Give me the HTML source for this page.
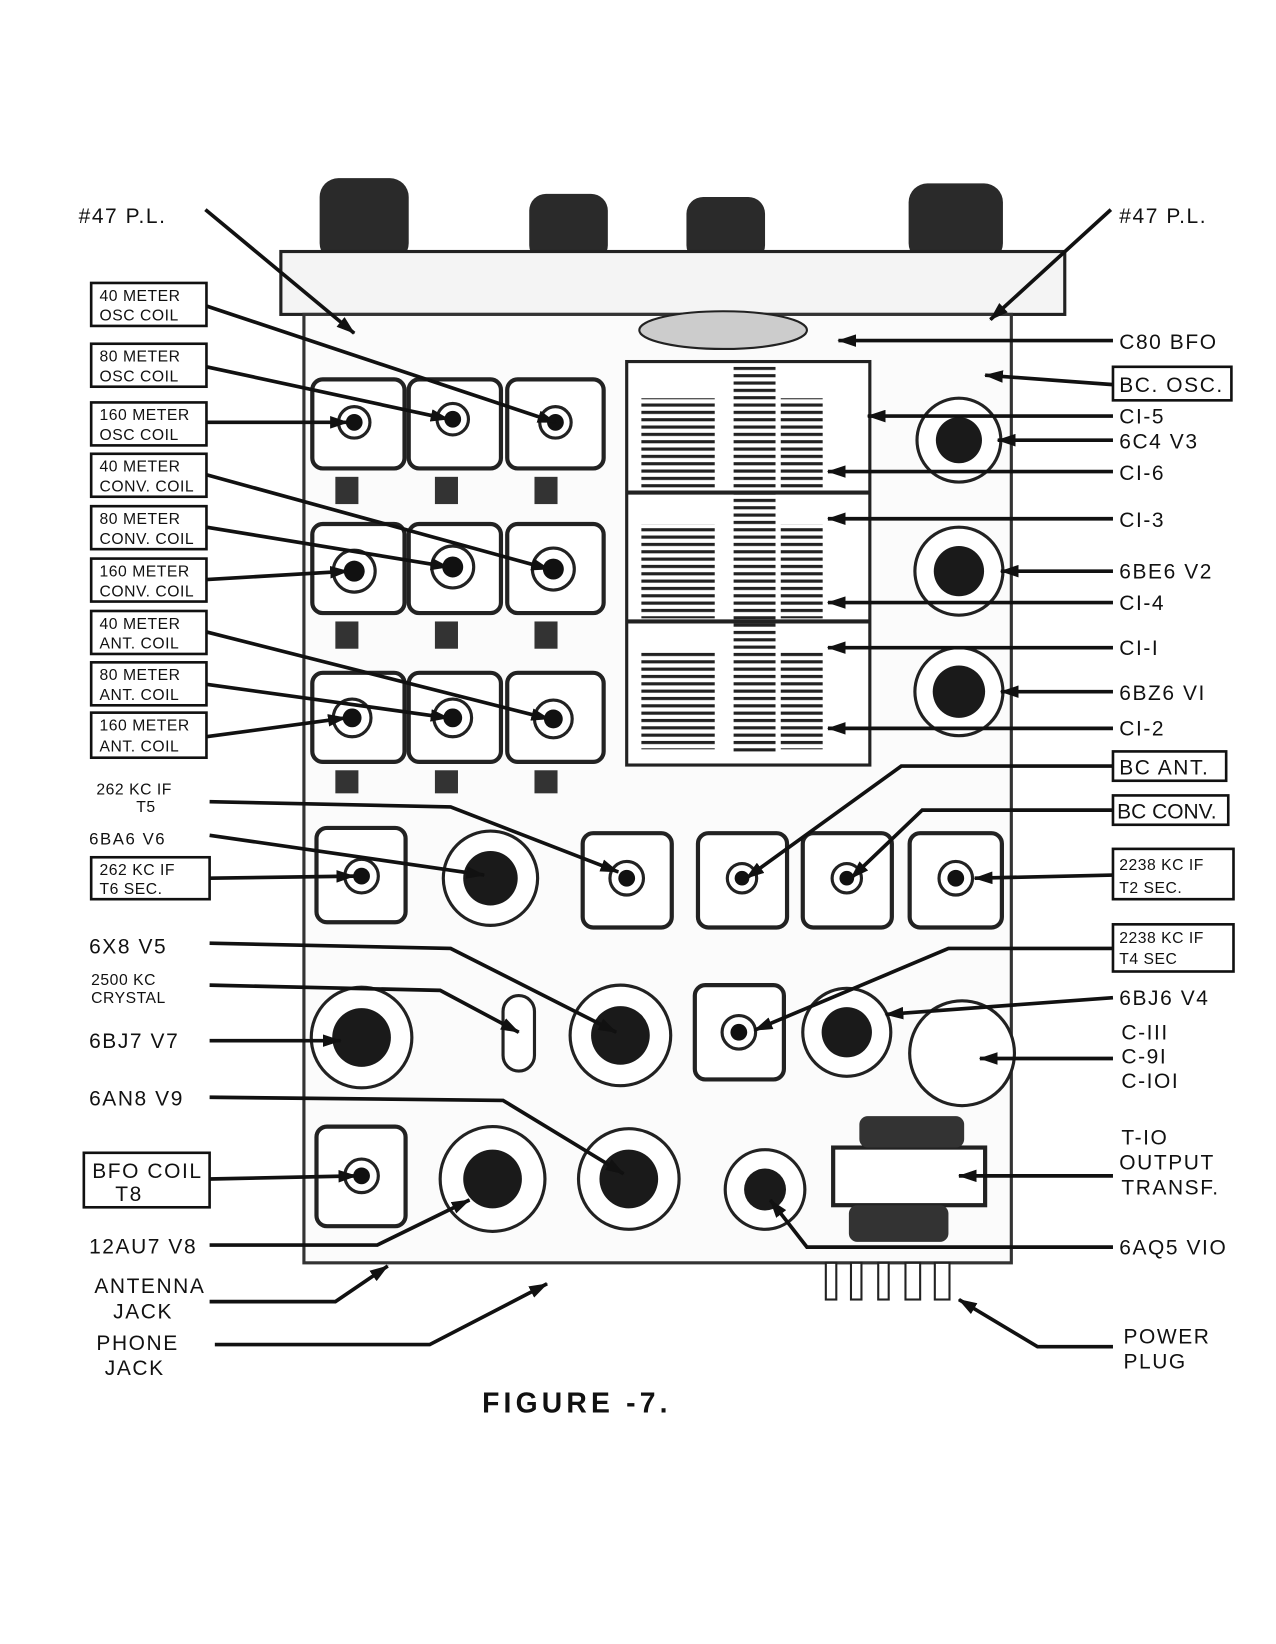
<!DOCTYPE html><html><head><style>body{margin:0;background:#fff}svg{display:block}text{font-family:"Liberation Sans",sans-serif;fill:#111}</style></head><body>
<svg width="1276" height="1644" viewBox="0 0 1276 1644" xmlns="http://www.w3.org/2000/svg">
<defs><marker id="a" markerUnits="userSpaceOnUse" markerWidth="18" markerHeight="12" refX="17" refY="6" orient="auto"><path d="M0,0L18,6L0,12z" fill="#111"/></marker>
<pattern id="st" width="8" height="7" patternUnits="userSpaceOnUse"><rect width="8" height="7" fill="#fff"/><rect y="0" width="8" height="3" fill="#222"/></pattern></defs>
<g transform="scale(1.048)">
<g fill="#2a2a2a"><rect x="305" y="170" width="85" height="80" rx="18"/><rect x="505" y="185" width="75" height="65" rx="16"/><rect x="655" y="188" width="75" height="62" rx="16"/><rect x="867" y="175" width="90" height="75" rx="18"/></g>
<rect x="268" y="240" width="748" height="60" fill="#f4f4f4" stroke="#222" stroke-width="3"/>
<rect x="290" y="300" width="675" height="905" fill="#fbfbfb" stroke="#333" stroke-width="3"/>
<rect x="598" y="345" width="232" height="385" fill="#fff" stroke="#222" stroke-width="3"/>
<g fill="url(#st)"><rect x="612" y="380" width="70" height="90"/><rect x="612" y="500" width="70" height="90"/><rect x="612" y="620" width="70" height="95"/><rect x="745" y="380" width="40" height="90"/><rect x="745" y="500" width="40" height="90"/><rect x="745" y="620" width="40" height="95"/><rect x="700" y="350" width="40" height="370"/></g>
<line x1="598" y1="470" x2="830" y2="470" stroke="#222" stroke-width="4"/><line x1="598" y1="593" x2="830" y2="593" stroke="#222" stroke-width="4"/>
<ellipse cx="690" cy="315" rx="80" ry="18" fill="#ccc" stroke="#222" stroke-width="2"/>
<g fill="#fff" stroke="#222" stroke-width="4">
<rect x="298" y="362" width="88" height="85" rx="10"/><rect x="390" y="362" width="88" height="85" rx="10"/><rect x="484" y="362" width="92" height="85" rx="10"/>
<rect x="298" y="500" width="88" height="85" rx="10"/><rect x="390" y="500" width="88" height="85" rx="10"/><rect x="484" y="500" width="92" height="85" rx="10"/>
<rect x="298" y="642" width="88" height="85" rx="10"/><rect x="390" y="642" width="88" height="85" rx="10"/><rect x="484" y="642" width="92" height="85" rx="10"/>
<rect x="302" y="790" width="85" height="90" rx="10"/><rect x="556" y="795" width="85" height="90" rx="10"/><rect x="666" y="795" width="85" height="90" rx="10"/><rect x="766" y="795" width="85" height="90" rx="10"/><rect x="868" y="795" width="88" height="90" rx="10"/>
<rect x="663" y="940" width="85" height="90" rx="10"/><rect x="302" y="1075" width="85" height="95" rx="10"/>
<rect x="795" y="1095" width="145" height="55"/>
</g>
<g fill="#333"><rect x="320" y="455" width="22" height="26"/><rect x="415" y="455" width="22" height="26"/><rect x="510" y="455" width="22" height="26"/><rect x="320" y="593" width="22" height="26"/><rect x="415" y="593" width="22" height="26"/><rect x="510" y="593" width="22" height="26"/><rect x="320" y="735" width="22" height="22"/><rect x="415" y="735" width="22" height="22"/><rect x="510" y="735" width="22" height="22"/><rect x="820" y="1065" width="100" height="30" rx="8"/><rect x="810" y="1150" width="95" height="35" rx="8"/></g>
<g stroke="#222" stroke-width="3" fill="#fff">
<circle cx="338" cy="403" r="15"/><circle cx="432" cy="400" r="15"/><circle cx="530" cy="403" r="15"/>
<circle cx="338" cy="545" r="20"/><circle cx="432" cy="541" r="20"/><circle cx="528" cy="543" r="20"/>
<circle cx="336" cy="685" r="18"/><circle cx="432" cy="685" r="18"/><circle cx="528" cy="686" r="18"/>
<circle cx="345" cy="836" r="16"/><circle cx="598" cy="838" r="16"/><circle cx="708" cy="838" r="14"/><circle cx="808" cy="838" r="14"/><circle cx="912" cy="838" r="16"/><circle cx="705" cy="985" r="16"/><circle cx="345" cy="1122" r="16"/>
</g>
<g fill="#111"><circle cx="338" cy="403" r="8"/><circle cx="432" cy="400" r="8"/><circle cx="530" cy="403" r="8"/><circle cx="338" cy="545" r="10"/><circle cx="432" cy="541" r="10"/><circle cx="528" cy="543" r="10"/><circle cx="336" cy="685" r="9"/><circle cx="432" cy="685" r="9"/><circle cx="528" cy="686" r="9"/><circle cx="345" cy="836" r="8"/><circle cx="598" cy="838" r="8"/><circle cx="708" cy="838" r="7"/><circle cx="808" cy="838" r="7"/><circle cx="912" cy="838" r="8"/><circle cx="705" cy="985" r="8"/><circle cx="345" cy="1122" r="8"/></g>
<g stroke="#222" stroke-width="3" fill="#fff">
<circle cx="915" cy="420" r="40"/><circle cx="915" cy="545" r="42"/><circle cx="915" cy="660" r="42"/>
<circle cx="468" cy="838" r="45"/><circle cx="345" cy="990" r="48"/><circle cx="592" cy="988" r="48"/><circle cx="808" cy="985" r="42"/><circle cx="918" cy="1005" r="50"/>
<circle cx="470" cy="1125" r="50"/><circle cx="600" cy="1125" r="48"/><circle cx="730" cy="1135" r="38"/>
<rect x="480" y="950" width="30" height="72" rx="15"/>
</g>
<g fill="#1a1a1a"><circle cx="915" cy="420" r="22"/><circle cx="915" cy="545" r="24"/><circle cx="915" cy="660" r="25"/><circle cx="468" cy="838" r="26"/><circle cx="345" cy="990" r="28"/><circle cx="592" cy="988" r="28"/><circle cx="808" cy="985" r="24"/><circle cx="470" cy="1125" r="28"/><circle cx="600" cy="1125" r="28"/><circle cx="730" cy="1135" r="20"/></g>
<g fill="#fff" stroke="#222" stroke-width="2"><rect x="788" y="1205" width="10" height="35"/><rect x="812" y="1205" width="10" height="35"/><rect x="838" y="1205" width="10" height="35"/><rect x="864" y="1205" width="14" height="35"/><rect x="892" y="1205" width="14" height="35"/></g>
<g stroke="#111" stroke-width="3.5" fill="none" marker-end="url(#a)">
<path d="M196,200L338,318"/><path d="M1060,200L945,305"/>
<path d="M197,292L530,403"/><path d="M197,350L428,400"/><path d="M197,403L332,403"/>
<path d="M197,453L524,543"/><path d="M197,503L428,541"/><path d="M197,553L332,545"/>
<path d="M197,603L524,686"/><path d="M197,653L428,685"/><path d="M197,703L330,685"/>
<path d="M200,765L430,770L590,832"/><path d="M200,797L462,835"/><path d="M200,838L338,836"/>
<path d="M200,900L430,905L588,985"/><path d="M200,940L420,945L495,985"/><path d="M200,993L325,993"/>
<path d="M200,1047L480,1050L595,1120"/><path d="M200,1125L340,1122"/><path d="M200,1188L360,1188L448,1145"/>
<path d="M200,1242L320,1242L370,1208"/><path d="M205,1283L410,1283L522,1225"/>
<path d="M1062,325L800,325"/><path d="M1062,367L940,358"/><path d="M1062,397L828,397"/><path d="M1062,420L952,420"/><path d="M1062,450L790,450"/><path d="M1062,495L790,495"/><path d="M1062,545L955,545"/><path d="M1062,575L790,575"/><path d="M1062,618L790,618"/><path d="M1062,660L955,660"/><path d="M1062,695L790,695"/>
<path d="M1062,731L860,731L712,838"/><path d="M1062,773L880,773L812,838"/><path d="M1062,835L930,838"/><path d="M1062,905L905,905L720,983"/><path d="M1062,952L845,968"/><path d="M1062,1010L935,1010"/><path d="M1062,1122L915,1122"/><path d="M1062,1190L770,1190L735,1145"/><path d="M1062,1285L990,1285L915,1240"/>
</g>
<g fill="none" stroke="#111" stroke-width="2.5">
<rect x="87" y="270" width="110" height="41"/><rect x="87" y="328" width="110" height="41"/><rect x="87" y="384" width="110" height="41"/><rect x="87" y="433" width="110" height="41"/><rect x="87" y="483" width="110" height="41"/><rect x="87" y="533" width="110" height="41"/><rect x="87" y="583" width="110" height="41"/><rect x="87" y="632" width="110" height="41"/><rect x="87" y="680" width="110" height="43"/>
<rect x="87" y="818" width="113" height="40"/><rect x="80" y="1100" width="120" height="52"/>
<rect x="1062" y="350" width="113" height="32"/><rect x="1062" y="717" width="108" height="28"/><rect x="1062" y="759" width="110" height="28"/><rect x="1062" y="810" width="115" height="48"/><rect x="1062" y="882" width="115" height="45"/>
</g>
<g font-size="15" letter-spacing="0.5">
<text x="95" y="287">40 METER</text><text x="95" y="306">OSC COIL</text>
<text x="95" y="345">80 METER</text><text x="95" y="364">OSC COIL</text>
<text x="95" y="401">160 METER</text><text x="95" y="420">OSC COIL</text>
<text x="95" y="450">40 METER</text><text x="95" y="469">CONV. COIL</text>
<text x="95" y="500">80 METER</text><text x="95" y="519">CONV. COIL</text>
<text x="95" y="550">160 METER</text><text x="95" y="569">CONV. COIL</text>
<text x="95" y="600">40 METER</text><text x="95" y="619">ANT. COIL</text>
<text x="95" y="649">80 METER</text><text x="95" y="668">ANT. COIL</text>
<text x="95" y="697">160 METER</text><text x="95" y="717">ANT. COIL</text>
<text x="92" y="758">262 KC IF</text><text x="130" y="775">T5</text>
<text x="95" y="835">262 KC IF</text><text x="95" y="853">T6 SEC.</text>
<text x="87" y="940">2500 KC</text><text x="87" y="957">CRYSTAL</text>
<text x="1068" y="830">2238 KC IF</text><text x="1068" y="852">T2 SEC.</text>
<text x="1068" y="900">2238 KC IF</text><text x="1068" y="920">T4 SEC</text>
</g>
<g font-size="20" letter-spacing="1.5">
<text x="75" y="213">#47 P.L.</text><text x="1068" y="213">#47 P.L.</text>
<text x="85" y="806" font-size="16">6BA6 V6</text>
<text x="85" y="910">6X8 V5</text><text x="85" y="1000">6BJ7 V7</text><text x="85" y="1055">6AN8 V9</text>
<text x="88" y="1124">BFO COIL</text><text x="110" y="1146">T8</text>
<text x="85" y="1196">12AU7 V8</text>
<text x="90" y="1234">ANTENNA</text><text x="108" y="1258">JACK</text>
<text x="92" y="1288">PHONE</text><text x="100" y="1312">JACK</text>
<text x="1068" y="333">C80 BFO</text><text x="1068" y="374">BC. OSC.</text>
<text x="1068" y="404">CI-5</text><text x="1068" y="428">6C4 V3</text><text x="1068" y="458">CI-6</text><text x="1068" y="503">CI-3</text>
<text x="1068" y="552">6BE6 V2</text><text x="1068" y="582">CI-4</text><text x="1068" y="625">CI-I</text><text x="1068" y="668">6BZ6 VI</text><text x="1068" y="702">CI-2</text>
<text x="1068" y="739">BC ANT.</text><text x="1066" y="781" letter-spacing="0">BC CONV.</text>
<text x="1068" y="959">6BJ6 V4</text>
<text x="1070" y="992">C-III</text><text x="1070" y="1015">C-9I</text><text x="1070" y="1038">C-IOI</text>
<text x="1070" y="1092">T-IO</text><text x="1068" y="1116">OUTPUT</text><text x="1070" y="1140">TRANSF.</text>
<text x="1068" y="1197">6AQ5 VIO</text>
<text x="1072" y="1282">POWER</text><text x="1072" y="1306">PLUG</text>
</g>
<text x="460" y="1348" font-size="27" font-weight="bold" letter-spacing="4">FIGURE -7.</text>
</g>
</svg></body></html>
